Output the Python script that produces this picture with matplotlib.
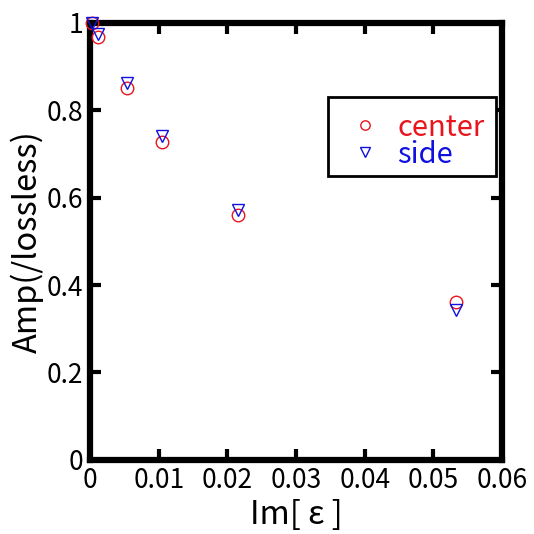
import matplotlib.pyplot as plt
from matplotlib.transforms import Affine2D

plt.rcParams['font.family'] = ['Noto Sans CJK JP', 'DejaVu Sans']

# データ
im_eps = [0.0002, 0.0012, 0.0053, 0.0104, 0.0216, 0.0533]
amp_center = [1.0, 0.969, 0.851, 0.728, 0.561, 0.362]
amp_side = [1.0, 0.974, 0.862, 0.741, 0.572, 0.343]

x_ticks = [0, 0.01, 0.02, 0.03, 0.04, 0.05, 0.06]
x_tick_labels = ['0', '0.01', '0.02', '0.03', '0.04', '0.05', '0.06']
y_ticks = [0, 0.2, 0.4, 0.6, 0.8, 1.0]
y_tick_labels = ['0', '0.2', '0.4', '0.6', '0.8', '1']

fig = plt.figure(figsize=(5.34, 5.34), dpi=100)
ax = fig.add_axes([0.169, 0.139, 0.771, 0.818])

ax.plot(im_eps, amp_center, 'o', mfc='none', mec='#e8141e', ms=9, mew=1.0,
        label='center', clip_on=False, zorder=5)
ax.plot(im_eps, amp_side, 'v', mfc='none', mec='#1010e0', ms=9, mew=1.0,
        label='side', clip_on=False, zorder=5)

ax.set_xlim(0, 0.06)
ax.set_ylim(0, 1)
ax.set_xticks(x_ticks)
ax.set_xticklabels(x_tick_labels)
ax.set_yticks(y_ticks)
ax.set_yticklabels(y_tick_labels)

# 太い枠と内向きの目盛り
for s in ax.spines.values():
    s.set_linewidth(4.5)
ax.tick_params(direction='in', length=8, width=3, labelsize=19,
               top=True, right=True, pad=5)

ax.set_xlabel('Im[ ε ]', fontsize=23.5, labelpad=4)
ax.set_ylabel('Amp(/lossless)', fontsize=23.5, labelpad=2)

# 凡例
leg = ax.legend(loc='upper right', bbox_to_anchor=(0.985, 0.831),
                borderaxespad=0, fontsize=21, markerscale=0.75,
                fancybox=False, framealpha=1, edgecolor='black',
                handletextpad=0.21, borderpad=0.38, labelspacing=-0.1,
                handlelength=1.78)
leg.get_frame().set_linewidth(2)
for t, c in zip(leg.get_texts(), ['#e8141e', '#1010e0']):
    t.set_color(c)
    t.set_position((0, -5))
for h in leg.legend_handles:
    h.set_transform(h.get_transform() + Affine2D().translate(0, -4))

fig.savefig('out.png', dpi=100)
